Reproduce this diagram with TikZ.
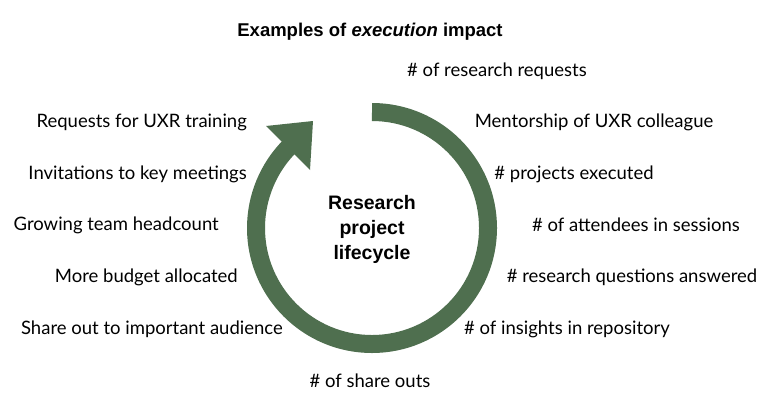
\documentclass[tikz,border=0pt]{standalone}
\usepackage{fontspec}
\setmainfont{Lato}
\newfontfamily\titlefont{Liberation Sans}
\definecolor{ringgreen}{HTML}{4F6F4F}
\begin{document}
\begin{tikzpicture}[x=1pt,y=-1pt,
  lbl/.style={font=\fontsize{18.5}{22}\selectfont, inner sep=0pt},
  lblr/.style={lbl, anchor=east},
  ttl/.style={font=\titlefont\bfseries\fontsize{18.5}{22}\selectfont, inner sep=0pt}]
\fill[white] (0,0) rectangle (767,402);
\useasboundingbox (0,0) rectangle (767,402);
\draw[ringgreen, line width=18pt] (372,112) arc[start angle=-90, end angle=225, radius=116];
\fill[ringgreen] (266,126) -- (310,170) -- (313,121) -- cycle;
\node[ttl] (t) at (370,32) {Examples of \textit{execution} impact};
\node[ttl, align=center, font=\titlefont\bfseries\fontsize{19.5}{25}\selectfont] (c) at (372,229) {Research\\project\\lifecycle};
\node[lbl] (r1) at (497,71) {\# of research requests};
\node[lbl] (r2) at (594,122) {Mentorship of UXR colleague};
\node[lbl] (r3) at (574,174) {\# projects executed};
\node[lbl] (r4) at (636,225) {\# of attendees in sessions};
\node[lbl] (r5) at (632,277) {\# research questions answered};
\node[lbl] (r6) at (567,329) {\# of insights in repository};
\node[lbl] (b) at (370,381) {\# of share outs};
\node[lblr] (l1) at (247,122) {Requests for UXR training};
\node[lblr] (l2) at (247,174) {Invitations to key meetings};
\node[lblr] (l3) at (219,225) {Growing team headcount};
\node[lblr] (l4) at (238,277) {More budget allocated};
\node[lblr] (l5) at (283,329) {Share out to important audience};
\end{tikzpicture}
\end{document}
